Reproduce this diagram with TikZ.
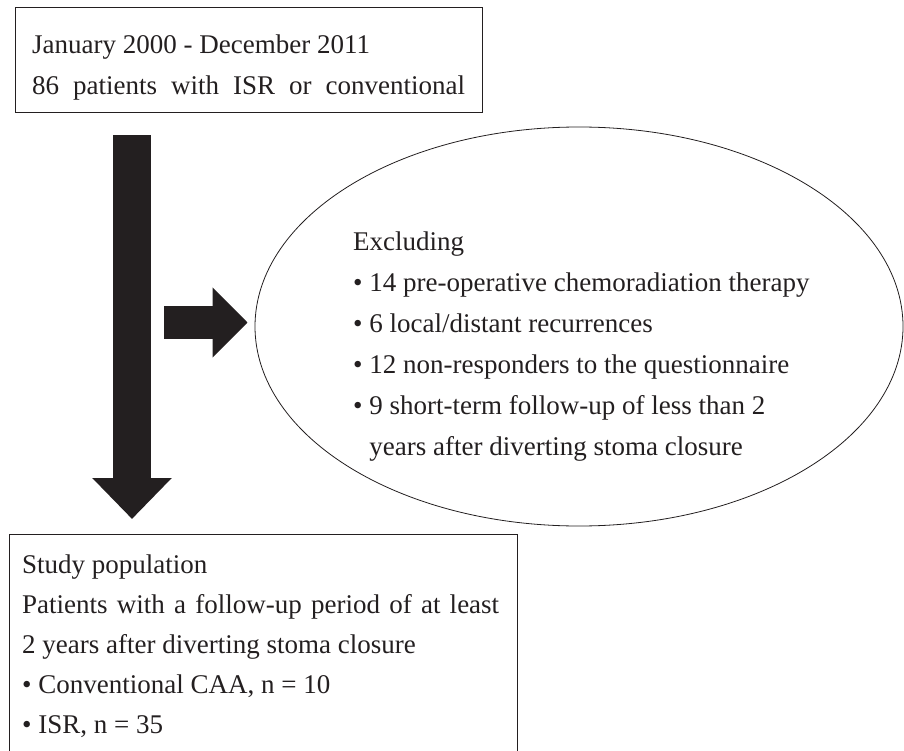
\documentclass[tikz,border=0pt]{standalone}
\usepackage{fontspec}
\setmainfont{Liberation Serif}
\usetikzlibrary{arrows.meta,shapes.geometric}
\definecolor{ink}{HTML}{231F20}

\begin{document}
\begin{tikzpicture}[x=1pt, y=-1pt, font=\fontsize{27}{41}\selectfont, text=ink,
        box/.style={draw=ink, line width=1.2pt},
        txt/.style={anchor=base west, align=left, inner sep=0pt},
        downarrow/.style={ink, line width=38pt, -{Triangle[length=41pt, width=77pt]}},
        sidearrow/.style={ink, line width=33pt, -{Triangle[length=35pt, width=68pt]}}]
        \clip (0, 0) rectangle (904, 751);
        % boxes
        \node[box, anchor=north west, minimum width=467pt, minimum height=105pt] (period) at (15, 7) {};
        \node[box, ellipse, line width=0.8pt, minimum width=648pt, minimum height=399pt] (excl) at (579, 326.5) {};
        \node[box, anchor=north west, minimum width=508pt, minimum height=260pt] (pop) at (9, 534) {};
        % texts (anchored at the baseline of the last line)
        \node[txt] (periodtext) at (32, 95) {January 2000 - December 2011\\
            \makebox[433pt][s]{86 patients with ISR or conventional}};
        \node[txt] (excltext) at (353, 455) {Excluding\\
            \textbullet\ 14 pre-operative chemoradiation therapy\\
            \textbullet\ 6 local/distant recurrences\\
            \textbullet\ 12 non-responders to the questionnaire\\
            \textbullet\ 9 short-term follow-up of less than 2\\
            \phantom{\textbullet\ }years after diverting stoma closure};
        \node[txt, font=\fontsize{27}{40}\selectfont] (poptext) at (22, 733) {Study population\\
            \makebox[477pt][s]{Patients with a follow-up period of at least}\\
            2 years after diverting stoma closure\\
            \textbullet\ Conventional CAA, n = 10\\
            \textbullet\ ISR, n = 35};
        % arrows
        \coordinate (shaft) at (132, 0);
        \coordinate (split) at (164, 322.5);
        \draw[downarrow, shorten <=22pt, shorten >=15pt] (period.south -| shaft) -- (pop.north -| shaft);
        \draw[sidearrow, shorten >=7pt] (split) -- (split -| excl.west);
    \end{tikzpicture}
\end{document}
